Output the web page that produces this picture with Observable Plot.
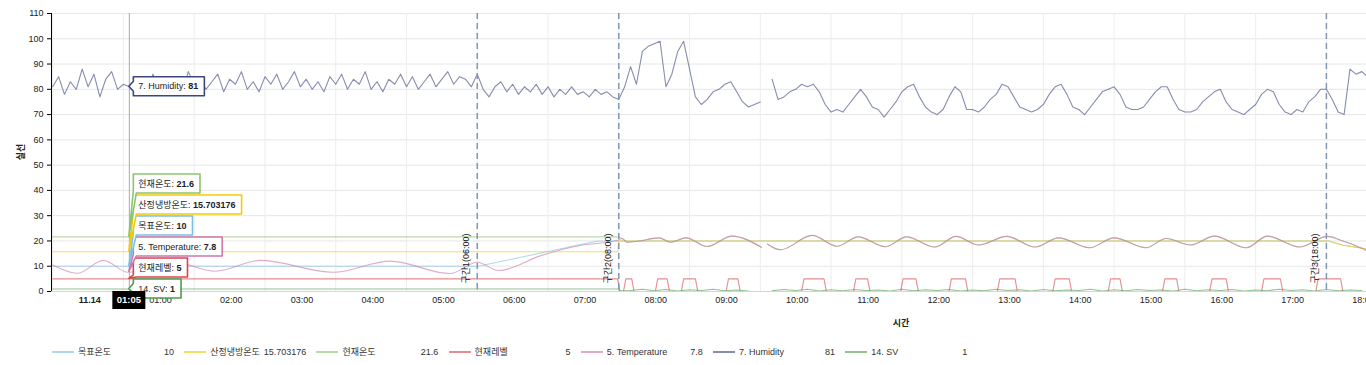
<!DOCTYPE html>
<html>
<head>
<meta charset="utf-8">
<script src="https://cdn.jsdelivr.net/npm/d3@7"></script>
<script src="https://cdn.jsdelivr.net/npm/@observablehq/plot@0.6"></script>
<style>
  html, body { margin: 0; padding: 0; background: #fff; }
  body { font-family: "Liberation Sans", "Noto Sans CJK KR", sans-serif; width: 1366px; overflow: hidden; }
  #legend { position: relative; width: 1366px; height: 35px; font-size: 9px; color: #333; }
  .li { position: absolute; top: 16px; height: 12px; line-height: 12px; width: 124px; }
  .sw { position: absolute; left: 0; top: 5px; width: 22px; height: 2px; }
  .ln { position: absolute; left: 26px; white-space: nowrap; }
  .lv { position: absolute; right: 2px; white-space: nowrap; }
</style>
</head>
<body>
<div id="chart"></div>
<div id="legend"></div>
<script>
// ---------------- DATA ----------------
const seriesNames  = ["목표온도", "산정냉방온도", "현재온도", "현재레벨", "5. Temperature", "7. Humidity", "14. SV"];
const seriesColors = ["#7cc0e6", "#f5cc00", "#8cc570", "#d9464e", "#cf77aa", "#3c4780", "#4f9c4f"];
const hoverValues  = ["10", "15.703176", "21.6", "5", "7.8", "81", "1"];
const hoverTime    = "01:05";
const yTicks       = [0, 10, 20, 30, 40, 50, 60, 70, 80, 90, 100, 110];
const hourTicks    = ["00:00","01:00","02:00","03:00","04:00","05:00","06:00","07:00","08:00","09:00","10:00","11:00","12:00","13:00","14:00","15:00","16:00","17:00","18:00"];
const hourLabels   = ["11.14","01:00","02:00","03:00","04:00","05:00","06:00","07:00","08:00","09:00","10:00","11:00","12:00","13:00","14:00","15:00","16:00","17:00","18:00"];
const sectionTimes  = ["06:00", "08:00", "18:00"];
const sectionLabels = ["구간1(06:00)", "구간2(08:00)", "구간3(18:00)"];
const xTitle = "시간";
const yTitle = "실선";

// 목표온도 [minute, value]
const targetTemp = [[0,10],[361,10],[461,19.9],[479,20],[1082,20],[1094,18.3],[1114,16.9]];
// 산정냉방온도
const coolingTemp = [[0,15.703176],[479,15.703176],[480,20],[1082,20],[1094,18.3],[1114,16.9]];
// 현재온도 before 08:00 (after 08:00 it follows tempAfter)
const currentTempBefore = [[0,21.6],[479,21.6]];
// 5. Temperature
const tempBefore = [[0,10.5],[21,7.2],[43,12.3],[64,7.6],[100,12.0],[138,8.0],[176,12.3],[238,7.6],[286,12.0],[337,7.1],[360,11.6],[378,8.3],[414,14.2],[447,18.2],[470,19.5],[479,20.3]];
const tempAfter = [[483,21.0],[487,19.5],[496,19.9],[514,21.2],[524,19.5],[537,21.2],[555,17.8],[576,21.9],[601,17.5],[603,null],[606,18.8],[617,16.5],[644,22.2],[665,17.9],[683,21.6],[706,17.7],[724,21.6],[748,17.6],[766,21.8],[785,18.4],[809,21.8],[833,17.6],[853,21.2],[879,17.3],[900,21.2],[927,17.3],[944,21.0],[965,18.4],[985,21.9],[1012,17.3],[1030,21.9],[1057,17.6],[1081,21.8],[1092,20.3],[1103,18.5],[1114,16.2]];
// 현재레벨: 5 until 08:00, then pulses [start, end] (minutes) at level 5
const levelBefore = [[0,5],[479,5],[481,0]];
const levelPulses = [[486,491],[513,521],[535,545],[573,581],[637,654],[681,691],[721,732],[762,774],[803,816],[850,862],[897,905],[943,953],[983,995],[1027,1041],[1073,1092]];
const levelGap = 603;
// 7. Humidity, every 5 minutes from 00:00
const humidityStep = 5;
const humidity = [81,85,78,83,80,88,81,86,77,84, 87,80,82,81,81,85,79,86,80,85, 82,84,79,87,82,84,80,83,86,79,
  84,82,87,80,83,79,85,82,86,80, 83,87,81,84,80,83,79,85,82,86, 80,84,82,87,80,83,79,84,82,86,
  81,85,80,83,86,81,84,87,82,85, 84,81,86,80,77,81,83,79,82,78, 81,79,82,78,81,77,80,78,81,78,
  79,77,80,78,79,77,76,81,89,82, 95,97,98,99,81,86,95,99,88,77, 74,76,79,80,82,83,79,75,73,74,
  75,null,84,76,77,79,80,82,81,82, 79,74,71,72,71,74,77,80,77,73, 72,69,72,75,79,81,82,77,73,71,
  70,72,77,81,79,72,72,71,73,76, 78,82,81,77,73,72,71,72,74,78, 81,82,78,73,72,70,73,76,79,80,
  81,78,73,72,72,73,76,79,81,81, 76,72,71,71,72,75,77,79,80,75, 72,71,70,72,74,78,80,79,74,71,
  70,72,71,75,77,80,80,76,71,70, 88,86,87,85];
// 14. SV
const svBefore = [[0,1],[479,1],[481,0.3]];
const svAfterStart = 490, svAfterStep = 10;
const svAfter = [0.4,0.9,0.3,0.8,0.2,0.7,0.4,0.9,0.3,0.6,0.2,null,0.3,0.8,0.4,0.9,0.2,0.7,0.3,0.8,
  0.4,0.6,0.2,0.9,0.3,0.7,0.4,0.8,0.2,0.6,0.3,0.9,0.4,0.7,0.2,0.8,0.3,0.6,0.4,0.9,
  0.2,0.7,0.3,0.8,0.4,0.6,0.2,0.9,0.3,0.7,0.4,0.8,0.2,0.6,0.3,0.9,0.4,0.7,0.2,0.8,0.3,0.6,0.4];

// ---------------- BUILD ----------------
const toMin = s => { const [h, m] = s.split(":").map(Number); return h * 60 + m; };
const pts = arr => arr.map(([t, v]) => ({t, v: v == null ? NaN : v}));

const levelData = pts(levelBefore);
levelPulses.forEach(([a, b], i) => {
  if (a > levelGap && (i === 0 || levelPulses[i - 1][1] < levelGap)) {
    levelData.push({t: levelGap - 1, v: 0}, {t: levelGap, v: NaN}, {t: levelGap + 2, v: 0});
  }
  levelData.push({t: a - 2, v: 0}, {t: a, v: 5}, {t: b, v: 5}, {t: b + 2, v: 0});
});
levelData.push({t: 1114, v: 0});

const svData = pts(svBefore).concat(svAfter.map((v, i) => ({t: svAfterStart + i * svAfterStep, v: v == null ? NaN : v})));
const humidityData = humidity.map((v, i) => ({t: i * humidityStep, v: v == null ? NaN : v}));

const seriesData = [
  pts(targetTemp),
  pts(coolingTemp),
  pts(currentTempBefore).concat(pts(tempAfter)),
  levelData,
  pts(tempBefore).concat(pts(tempAfter)),
  humidityData,
  svData
];
const curves = ["linear", "linear", "monotone-x", "linear", "monotone-x", "linear", "linear"];

const hoverMin = toMin(hoverTime);
const font = "'Liberation Sans', 'Noto Sans CJK KR', sans-serif";

const lineMarks = seriesData.map((d, i) => Plot.line(d, {
  x: "t", y: "v", stroke: seriesColors[i], strokeOpacity: 0.62, strokeWidth: 1.1, curve: curves[i], clip: true
}));

const sections = sectionTimes.map((t, i) => ({t: toMin(t), label: sectionLabels[i]}));

const plot = Plot.plot({
  width: 1366,
  height: 330,
  marginLeft: 51,
  marginRight: 0,
  marginTop: 13,
  marginBottom: 39,
  style: {fontFamily: font, fontSize: "9px", color: "#222", background: "#fff", overflow: "hidden"},
  x: {type: "linear", domain: [-1, 1114]},
  y: {domain: [0, 110]},
  marks: [
    Plot.gridY(yTicks, {stroke: "#e6e6e6", strokeOpacity: 1}),
    Plot.gridX(hourTicks.map(toMin), {stroke: "#ededed", strokeOpacity: 1}),
    Plot.ruleY([0], {stroke: "#ccd6eb"}),
    ...lineMarks,
    Plot.ruleX(sections, {x: "t", stroke: "#8197b2", strokeWidth: 1.5, strokeDasharray: "6,4"}),
    Plot.text(sections, {x: "t", text: "label", frameAnchor: "bottom", rotate: -90, textAnchor: "start", dx: -8, dy: -8, fontSize: 9, fill: "#111"}),
    Plot.ruleX([hoverMin], {stroke: "#aaaaaa"}),
    Plot.ruleX([-1], {stroke: "#000"}),
    Plot.axisY(yTicks, {tickSize: 4, tickPadding: 4, label: null, stroke: "#000", fill: "#222", fontSize: 9}),
    Plot.axisX(hourTicks.slice(1).map(toMin), {tickSize: 0, tickPadding: 5, dx: 37, label: null, tickFormat: (d) => hourLabels[hourTicks.map(toMin).indexOf(d)], fontSize: 9, fill: "#222"}),
    Plot.axisX([0], {tickSize: 0, tickPadding: 5, dx: 37, label: null, tickFormat: () => hourLabels[0], fontSize: 9, fontWeight: "bold", fill: "#222"})
  ]
});
document.getElementById("chart").appendChild(plot);

// ---------------- TITLES & TOOLTIP ----------------
const svg = d3.select(plot);
const xs = plot.scale("x"), ys = plot.scale("y");
svg.append("text").attr("x", 901).attr("y", 326).attr("text-anchor", "middle")
  .attr("font-size", 9).attr("font-weight", "bold").attr("fill", "#222").text(xTitle);
svg.append("text").attr("transform", "translate(24,152) rotate(-90)").attr("text-anchor", "middle")
  .attr("font-size", 9).attr("font-weight", "bold").attr("fill", "#222").text(yTitle);

const hx = xs.apply(hoverMin);
const tip = svg.append("g").attr("font-size", 9).attr("fill", "#222").attr("text-anchor", "start");
const items = seriesNames.map((n, i) => ({n, v: hoverValues[i], c: seriesColors[i], ay: ys.apply(+hoverValues[i])}));
items.sort((a, b) => b.ay - a.ay);
let prev = Infinity;
const H = 19, GAP = 21;
items.forEach(it => { it.cy = Math.min(it.ay, prev - GAP); prev = it.cy; });
const L = hx + 4.5;
items.forEach(it => {
  const g = tip.append("g");
  const t = g.append("text").attr("x", L + 5).attr("y", it.cy).attr("dy", "0.35em").attr("text-anchor", "start");
  t.append("tspan").text(it.n + ": ");
  t.append("tspan").attr("font-weight", "bold").text(it.v);
  const w = t.node().getComputedTextLength() + 11;
  const T = it.cy - H / 2, B = it.cy + H / 2, R = L + w, ax = hx, ay = it.ay;
  let p;
  if (ay >= T + 4 && ay <= B - 4) {
    const a1 = Math.min(ay + 5, B), a0 = Math.max(ay - 5, T);
    p = `M${L},${T}H${R}V${B}H${L}V${a1}L${ax},${ay}L${L},${a0}Z`;
  } else if (ay > B - 4) {
    p = `M${L},${T}H${R}V${B}H${L + 3}L${ax},${ay}L${L},${B - 2}Z`;
  } else {
    p = `M${L},${T + 2}L${ax},${ay}L${L + 3},${T}H${R}V${B}H${L}Z`;
  }
  g.insert("path", "text").attr("d", p).attr("fill", "#fff").attr("stroke", it.c).attr("stroke-width", 1.6).attr("stroke-linejoin", "round");
});
// x hover label
const xl = svg.append("g");
xl.append("rect").attr("x", hx - 16.5).attr("y", 291).attr("width", 33).attr("height", 18).attr("fill", "#000");
xl.append("text").attr("x", hx).attr("y", 300).attr("dy", "0.35em").attr("text-anchor", "middle")
  .attr("fill", "#fff").attr("font-size", 9.5).attr("font-weight", "bold").text(hoverTime);

// ---------------- LEGEND ----------------
const legend = d3.select("#legend");
seriesNames.forEach((n, i) => {
  const it = legend.append("div").attr("class", "li").style("left", (52 + i * 132.2) + "px");
  it.append("div").attr("class", "sw").style("background", seriesColors[i]).style("opacity", 0.62);
  it.append("div").attr("class", "ln").text(n);
  it.append("div").attr("class", "lv").text(hoverValues[i]);
});
</script>
</body>
</html>
